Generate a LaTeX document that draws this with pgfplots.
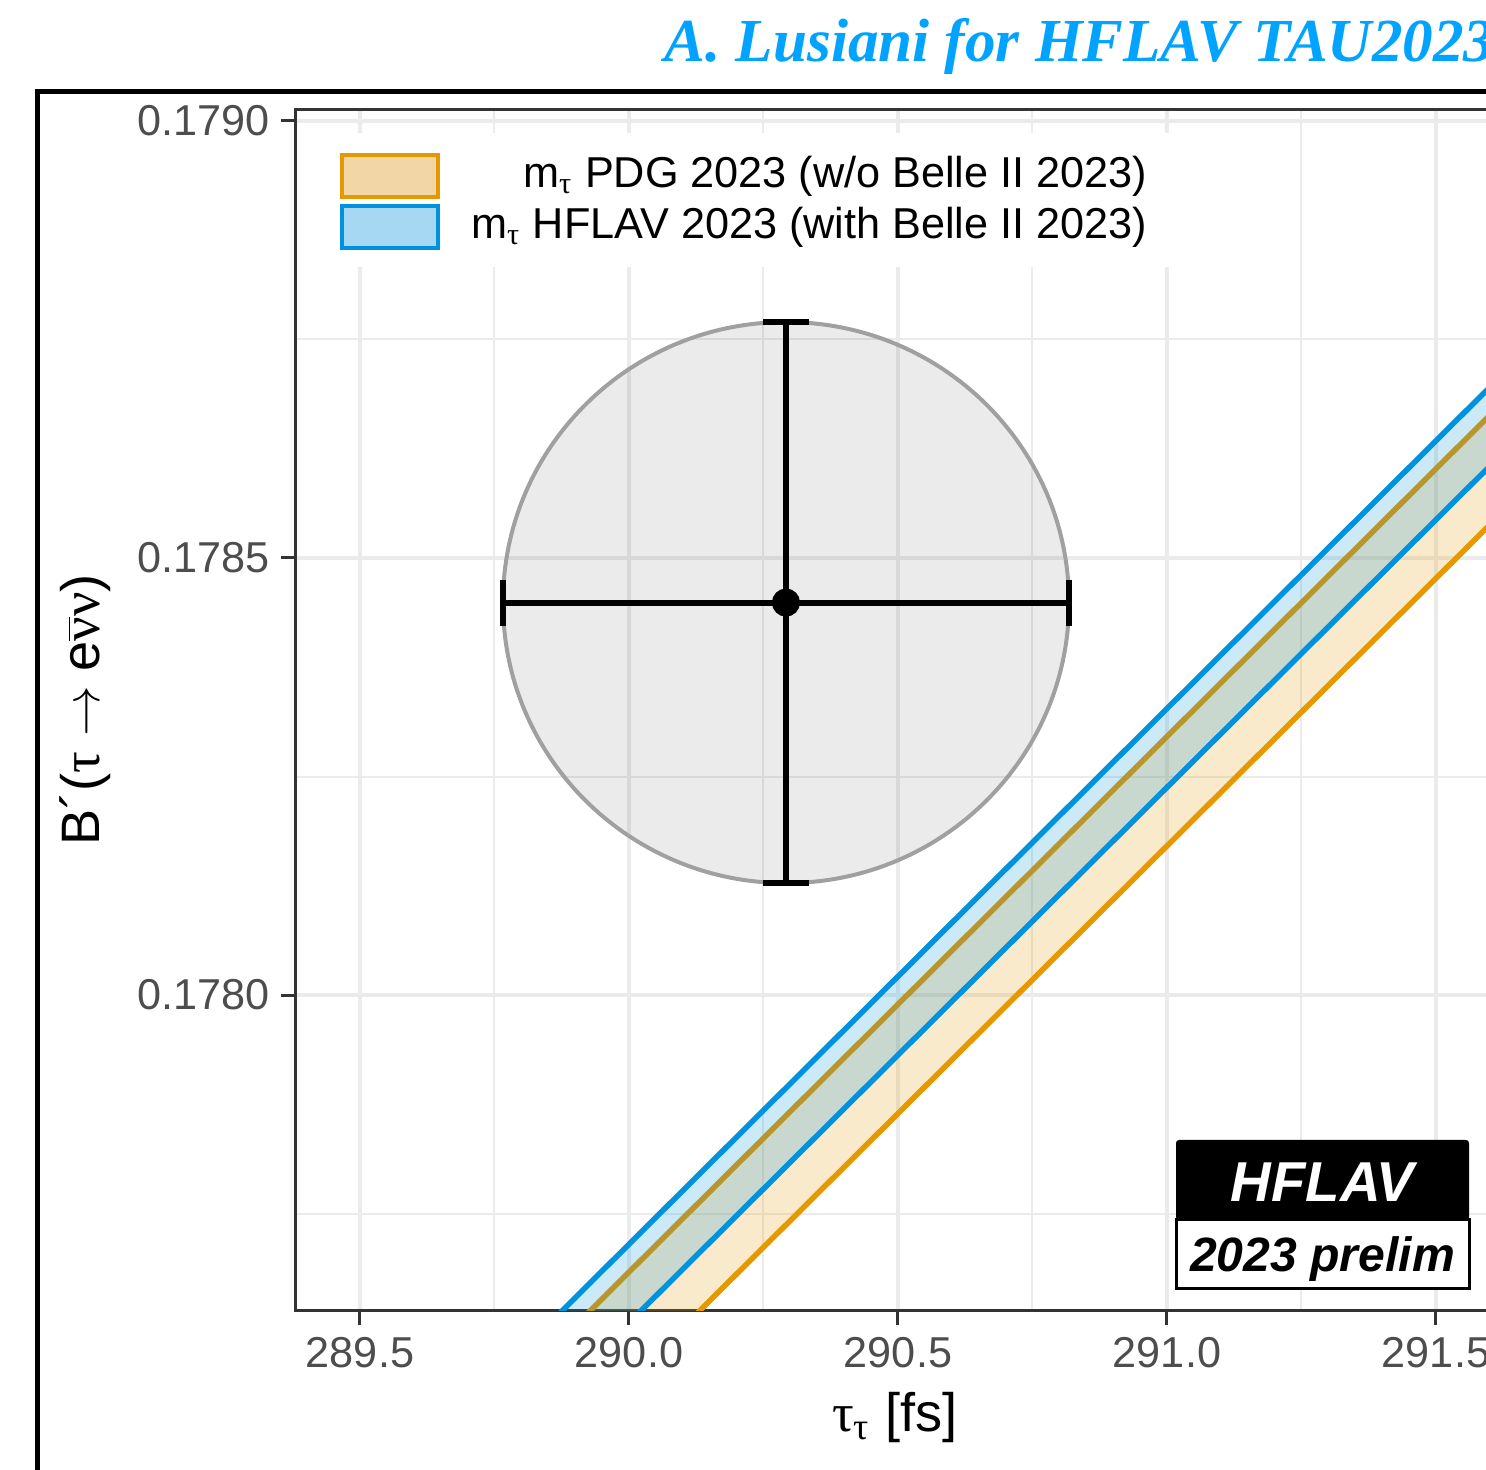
\documentclass[border=0pt]{standalone}
\usepackage{pgfplots}
\pgfplotsset{compat=1.18}
\usepackage{fontspec}
\setmainfont{Liberation Sans}
\newfontfamily\symf{Liberation Serif}
\newfontfamily\titlef{Liberation Serif}
\definecolor{cA}{HTML}{333333}
\definecolor{cB}{HTML}{4D4D4D}
\definecolor{gridc}{HTML}{EBEBEB}
\definecolor{orangeL}{RGB}{230,152,0}
\definecolor{blueL}{RGB}{0,146,222}
\definecolor{orangeK}{HTML}{F3D6A5}
\definecolor{blueK}{HTML}{A6D8F3}
\definecolor{titleblue}{RGB}{0,163,255}
\begin{document}
\begin{tikzpicture}
\begin{axis}[
  at={(29.5mm,15.9mm)}, anchor=south west,
  width=120mm, height=120.1mm, scale only axis,
  xmin=289.3792, xmax=291.6097,
  ymin=0.1776385, ymax=0.1790126,
  xtick={289.5,290,290.5,291,291.5},
  xticklabels={289.5,290.0,290.5,291.0,291.5},
  ytick={0.178,0.1785,0.179},
  yticklabels={0.1780,0.1785,0.1790},
  minor xtick={289.75,290.25,290.75,291.25},
  minor ytick={0.17775,0.17825,0.17875},
  grid=both,
  major grid style={draw=gridc, line width=0.4mm},
  minor grid style={draw=gridc, line width=0.2mm},
  minor tick length=0pt,
  major tick length=1.4mm,
  tick align=outside,
  xtick pos=bottom, ytick pos=left,
  tick style={draw=cA, line width=0.3mm},
  axis line style={draw=cA, line width=0.3mm},
  tick label style={font=\fontsize{12.3}{14}\selectfont, text=cB},
  yticklabel style={anchor=east, inner sep=0pt, xshift=-1.1mm},
  xticklabel style={anchor=north, inner sep=0pt, yshift=-1.2mm},
]
% orange band (m_tau PDG 2023)
\addplot[draw=none, fill=orangeL, fill opacity=0.2] coordinates {(289.3,0.1772541) (291.7,0.1787246) (291.7,0.1785992) (289.3,0.1771297)} -- cycle;
\addplot[orangeL, line width=0.55mm] coordinates {(289.3,0.1772541) (291.7,0.1787246)};
\addplot[orangeL, line width=0.55mm] coordinates {(289.3,0.1771297) (291.7,0.1785992)};
% blue band (m_tau HFLAV 2023)
\addplot[draw=none, fill=blueL, fill opacity=0.2] coordinates {(289.3,0.1772859) (291.7,0.1787567) (291.7,0.1786663) (289.3,0.1771963)} -- cycle;
\addplot[blueL, line width=0.55mm] coordinates {(289.3,0.1772859) (291.7,0.1787567)};
\addplot[blueL, line width=0.55mm] coordinates {(289.3,0.1771963) (291.7,0.1786663)};
% measurement ellipse and point
\draw[fill=black, fill opacity=0.08, draw={rgb,255:red,160;green,160;blue,160}, line width=0.4mm] (axis cs:290.2918,0.1784490) ellipse [x radius=28.3mm, y radius=28.05mm];
\addplot[black, line width=0.6mm, mark=*, mark size=1.1mm,
  error bars/.cd, x dir=both, x explicit, y dir=both, y explicit,
  error mark=|,
  error bar style={line width=0.6mm, black},
  error mark options={line width=0.6mm, mark size=2.3mm, black}]
  coordinates {(290.2918,0.1784490) +- (0.5260,0.0003210)};
\end{axis}
% legend
\fill[white] (32.2mm,120.3mm) rectangle (117.2mm,133.7mm);
\draw[orangeL, fill=orangeK, line width=0.45mm] (34.2mm,127.3mm) rectangle (43.8mm,131.5mm);
\draw[blueL, fill=blueK, line width=0.45mm] (34.2mm,122.2mm) rectangle (43.8mm,126.4mm);
\node[anchor=east, inner sep=0pt, font=\fontsize{12.3}{14}\selectfont] at (114.8mm,129.4mm) {m\textsubscript{\symf τ} PDG 2023 (w/o Belle II 2023)};
\node[anchor=east, inner sep=0pt, font=\fontsize{12.3}{14}\selectfont] at (114.8mm,124.3mm) {m\textsubscript{\symf τ} HFLAV 2023 (with Belle II 2023)};
% HFLAV logo
\fill[black, rounded corners=0.3mm] (117.6mm,25.0mm) rectangle (146.9mm,33.0mm);
\draw[black, fill=white, line width=0.3mm] (117.6mm,18.1mm) rectangle (146.9mm,25.0mm);
\node[anchor=base, inner sep=0pt, text=white, font=\fontsize{16}{18}\selectfont\bfseries\itshape] at (132.25mm,26.8mm) {HFLAV};
\node[anchor=base, inner sep=0pt, font=\fontsize{13.7}{16}\selectfont\bfseries\itshape] at (132.25mm,19.8mm) {2023 prelim};
% axis titles
\node[anchor=base, inner sep=0pt, font=\fontsize{15.4}{18}\selectfont] at (89.5mm,3.8mm) {{\symf τ}\textsubscript{\symf τ} [fs]};
\node[rotate=90, inner sep=0pt, font=\fontsize{15.4}{18}\selectfont] at (8.5mm,76.0mm) {B\textasciiacute({\symf τ} $\rightarrow$ e$\overline{\hbox{\symf ν}}${\symf ν})};
% title and outer frame
\node[anchor=base east, inner sep=0pt, text=titleblue, font=\titlef\fontsize{17.4}{20}\selectfont\bfseries\itshape] at (149.5mm,140.8mm) {A. Lusiani for HFLAV TAU2023};
\draw[black, line width=0.5mm] (3.7mm,-2mm) -- (3.7mm,137.8mm) -- (160mm,137.8mm);
\pgfresetboundingbox
\useasboundingbox (0mm,0mm) rectangle (148.6mm,147mm);
\end{tikzpicture}
\end{document}
